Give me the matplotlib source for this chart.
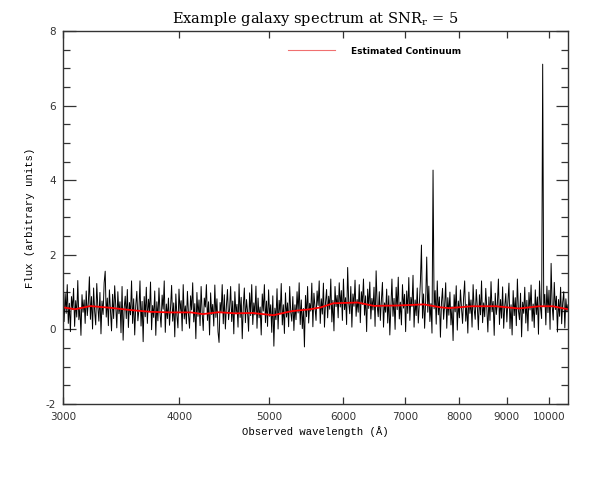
import numpy as np
import matplotlib.pyplot as plt
from matplotlib.lines import Line2D
from matplotlib.ticker import FixedLocator, NullLocator, MultipleLocator

# observed-frame spectrum, log-uniform sampling between these two ends
wave_start = 3000.0
wave_end = 10480.0

# flux, 20 samples per row (blue -> red)
flux = [
    0.64, 0.21, 0.96, 0.43, 1.20, 0.16, 0.70, -0.06, 0.88, 0.54, 1.10, 0.08, 0.77, 0.33, 1.31, 0.26, 0.58, -0.16, 0.93, 0.46,
    0.79, 0.16, 1.03, 0.37, 0.71, 1.41, 0.27, 0.88, 0.01, 1.11, 0.48, 0.12, 1.23, 0.61, 0.22, 0.99, -0.12, 0.76, 0.40, 1.25,
    1.56, 0.33, 0.84, 0.10, 1.06, 0.53, -0.04, 0.94, 0.29, 1.17, 0.64, 0.04, 1.01, 0.42, 0.74, -0.09, 1.15, -0.29, 0.57, 0.89,
    0.29, 1.07, 0.05, 0.72, 0.39, 1.30, 0.16, 0.82, -0.15, 0.64, 1.02, 0.23, 0.53, 1.30, 0.09, 0.75, -0.33, 0.88, 0.34, 1.13,
    0.16, 0.81, 0.48, 1.27, -0.01, 0.64, 0.32, 1.03, -0.16, 0.74, 0.23, 1.11, 0.44, 0.06, 0.92, 0.54, 1.30, -0.08, 0.68, 0.29,
    0.84, 0.11, 0.59, 1.18, 0.22, 0.71, -0.20, 0.95, 0.38, 0.04, 1.08, 0.48, 0.77, -0.04, 1.20, 0.28, 0.63, 0.15, 1.02, 0.41,
    0.03, 0.90, 0.52, 1.25, 0.20, 0.69, -0.25, 0.99, 0.35, 0.79, 0.10, 1.15, 0.44, -0.03, 0.84, 0.60, 1.20, 0.24, 0.74, -0.15,
    0.98, 0.40, 0.67, 0.09, 1.19, 0.32, 0.82, -0.06, -0.35, 0.72, 0.47, 1.20, 0.15, 0.93, 0.01, 0.64, 1.07, 0.26, 0.56, 1.15,
    0.21, 0.76, -0.12, 1.01, 0.42, 0.67, 0.06, 1.22, 0.32, 0.86, -0.25, 0.62, 1.11, 0.18, 0.80, 0.49, -0.05, 0.98, 0.37, 1.20,
    0.13, 0.71, 0.39, 1.16, 0.03, 0.84, 0.31, 0.60, -0.15, 0.95, 0.49, 1.20, 0.18, 0.76, 0.08, 1.06, 0.35, 0.66, -0.08, 0.90,
    -0.45, 0.57, 0.26, 1.09, 0.01, 0.78, 0.42, 1.23, 0.12, 0.66, -0.11, 0.98, 0.33, 0.71, 0.07, 1.15, 0.46, 0.22, 0.88, -0.03,
    0.66, 0.26, 1.01, 0.44, 1.25, 0.13, 0.79, 0.02, 0.56, -0.47, 0.91, 0.34, 1.15, 0.17, 0.70, 0.49, 1.24, 0.07, 0.97, 0.61,
    0.24, 1.03, 0.64, 1.30, 0.16, 0.82, 0.41, 1.24, 0.06, 0.72, 1.07, 0.31, 0.89, 0.54, 1.35, 0.20, 0.78, -0.04, 1.15, 0.61,
    0.91, 0.31, 1.25, 0.60, 1.04, 0.24, 1.35, 0.53, 0.85, 0.13, 1.66, 0.71, 0.42, 1.15, 0.06, 0.95, 0.62, 1.32, 0.35, 0.80,
    0.46, 1.20, 0.18, 1.01, 0.67, 1.35, 0.38, 0.90, -0.06, 1.08, 0.56, 1.27, 0.28, 0.83, 0.52, 1.13, 0.08, 1.57, 0.64, 0.34,
    1.01, 0.24, 0.78, 1.26, 0.06, 0.71, 0.46, 1.08, 0.17, 0.90, -0.15, 0.63, 1.35, 0.35, 0.83, 0.00, 1.13, 0.53, 1.40, 0.28,
    0.73, 0.12, 1.20, 0.57, 0.94, -0.06, 1.03, 0.43, 1.39, 0.24, 0.86, 0.61, 1.45, 0.06, 0.79, 0.37, 1.11, 0.17, 0.68, 1.28,
    2.26, 0.30, 0.95, 0.03, 0.76, 1.94, 0.46, 1.16, 0.21, 0.69, -0.10, 4.27, 0.55, 1.04, 0.14, 1.30, 0.39, 0.87, -0.21, 0.72,
    1.10, 0.27, 0.65, 1.25, 0.03, 0.85, 0.38, 1.00, 0.12, 0.61, -0.30, 0.93, 0.47, 1.17, -0.02, 0.76, 0.31, 1.06, 0.57, 0.16,
    0.86, 1.30, 0.22, 0.67, -0.10, 1.00, 0.43, 0.79, 0.06, 1.20, 0.54, 0.27, 1.07, 0.61, -0.01, 0.93, 0.39, 1.30, 0.18, 0.71,
    0.34, 1.10, 0.56, -0.07, 0.87, 0.24, 1.28, 0.47, 0.75, -0.16, 0.97, 0.40, 0.68, 1.35, 0.13, 0.80, 0.30, 1.14, 0.03, 0.62,
    0.96, 0.20, 0.75, 1.24, 0.02, 0.66, -0.15, 1.04, 0.37, 0.85, 0.10, 1.35, 0.50, 0.26, 0.97, -0.20, 0.73, 0.43, 1.13, 0.17,
    0.78, -0.04, 0.99, 0.52, 1.19, 0.22, 0.68, 0.05, 1.06, 0.40, 0.87, -0.13, 1.30, 0.56, 0.29, 7.11, 0.61, 0.94, 0.12, 1.16,
    0.45, 1.05, 0.00, 1.77, 0.64, 0.25, 1.26, 0.53, 0.89, -0.07, 0.80, 0.35, 1.13, 0.15, 0.73, 1.01, 0.04, 0.82, 0.47, 0.66,
]

# estimated continuum (red curve)
cont_wave = [3000, 3090, 3210, 3370, 3540, 3730, 3920, 4120, 4240, 4410, 4600, 4800,
             5050, 5290, 5535, 5680, 5860, 6225, 6480, 6870, 7335, 7650, 7810, 8260,
             8770, 9280, 9760, 10090, 10480]
cont_flux = [0.59, 0.54, 0.625, 0.58, 0.52, 0.47, 0.455, 0.455, 0.41, 0.46, 0.43, 0.44,
             0.38, 0.49, 0.54, 0.59, 0.70, 0.72, 0.63, 0.64, 0.67, 0.59, 0.57, 0.62,
             0.62, 0.56, 0.62, 0.62, 0.54]

xticks = [3000, 4000, 5000, 6000, 7000, 8000, 9000, 10000]
yticks = [-2, 0, 2, 4, 6, 8]

wave = np.geomspace(wave_start, wave_end, len(flux))

axcol = '#333333'
plt.rcParams['mathtext.fontset'] = 'dejavuserif'

fig = plt.figure(figsize=(5.98, 4.92), dpi=100)
ax = fig.add_axes([0.1054, 0.1789, 0.8444, 0.7581])

ax.plot(wave, flux, color='black', linewidth=0.7)
ax.plot(cont_wave, cont_flux, color='red', linewidth=1.3)

ax.set_xscale('log')
ax.set_xlim(wave_start, wave_end)
ax.set_ylim(-2, 8)

ax.xaxis.set_major_locator(FixedLocator(xticks))
ax.xaxis.set_minor_locator(NullLocator())
ax.set_xticks(xticks, [str(t) for t in xticks])
ax.set_yticks(yticks, [str(t) for t in yticks])
ax.yaxis.set_minor_locator(MultipleLocator(0.5))

ax.tick_params(axis='x', which='major', direction='in', length=5, width=0.9,
               top=True, pad=6, labelsize=7.5, colors=axcol)
ax.tick_params(axis='y', which='major', direction='in', length=9, width=0.9,
               right=True, pad=5, labelsize=7.5, colors=axcol)
ax.tick_params(axis='y', which='minor', direction='in', length=5, width=0.9,
               right=True, colors=axcol)
for s in ax.spines.values():
    s.set_color(axcol)
    s.set_linewidth(1.0)

ax.set_title(r'Example galaxy spectrum at SNR$_\mathrm{r}$ = 5',
             family='DejaVu Serif', fontsize=10.5, pad=6)
ax.set_xlabel('Observed wavelength (Å)', family='Liberation Mono', fontsize=7.7, labelpad=3)
ax.set_ylabel('Flux (arbitrary units)', family='Liberation Mono', fontsize=7.7, labelpad=8)

handle = Line2D([], [], color='#f07070', linewidth=0.8)
ax.legend([handle], ['Estimated Continuum'], loc='upper left',
          bbox_to_anchor=(0.43, 0.98), frameon=False, handlelength=5.2,
          handletextpad=1.8, prop={'family': 'DejaVu Sans', 'size': 6.5, 'weight': 'bold'})

fig.savefig('out.png', dpi=100)
